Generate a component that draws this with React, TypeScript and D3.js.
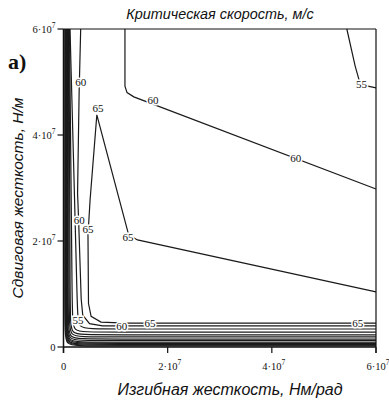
import * as d3 from 'd3';

// all coordinates in units of 10^7
const xTicks = [0, 2, 4, 6];
const yTicks = [0, 2, 4, 6];
const tickMantissa = ['0', '2·10', '4·10', '6·10'];
const tickExp = ['', '7', '7', '7'];

// traced contour lines [x, y]
const c55Top = [[5.44, 6.0], [5.6, 5.3], [5.68, 5.02], [5.8, 4.93], [6.0, 4.89]];
const c60Top = [[1.18, 6.0], [1.18, 4.92], [1.22, 4.8], [1.35, 4.72], [6.0, 2.98]];
const c60Left = [
  [0.33, 6.0], [0.3, 4.8], [0.27, 2.9], [0.29, 2.4], [0.34, 0.9],
  [0.37, 0.6], [0.5, 0.44], [0.75, 0.4], [6.0, 0.4],
];
const c65 = [
  [6.0, 1.04], [1.42, 2.02], [1.25, 2.12], [0.64, 4.38], [0.51, 2.77],
  [0.47, 2.11], [0.48, 0.82], [0.53, 0.58], [0.72, 0.47], [1.2, 0.45], [6.0, 0.45],
];

// contours hugging the axes (L-shaped)
const lowLevels = [55, 50, 45, 40, 35, 30, 25, 20, 15, 10, 5];
const lowXTop = [0.125, 0.115, 0.105, 0.095, 0.085, 0.075, 0.065, 0.055, 0.045, 0.035, 0.025];
const lowXBottom = [0.27, 0.17, 0.13, 0.11, 0.09, 0.075, 0.065, 0.055, 0.045, 0.035, 0.025];
const lowYFlat = [0.34, 0.28, 0.23, 0.19, 0.15, 0.12, 0.09, 0.07, 0.05, 0.035, 0.02];

// contour labels
const labelText = ['55', '60', '60', '60', '60', '65', '65', '65', '65', '65', '55', '60'];
const labelX = [5.72, 1.72, 4.46, 0.33, 0.3, 0.66, 0.47, 1.24, 1.66, 5.65, 0.28, 1.12];
const labelY = [4.96, 4.66, 3.57, 5.0, 2.4, 4.5, 2.23, 2.08, 0.45, 0.45, 0.5, 0.4];

const W = 389;
const H = 401;

export default function App() {
  const x = d3.scaleLinear().domain([0, 6]).range([63.5, 376]);
  const y = d3.scaleLinear().domain([0, 6]).range([347, 29]);

  const straight = d3.line<number[]>().x(d => x(d[0])).y(d => y(d[1]));
  const rounded = d3.line<number[]>().x(d => x(d[0])).y(d => y(d[1])).curve(d3.curveBasis);

  const lowPaths = lowLevels.map((lv, i) => {
    const xb = lowXBottom[i];
    const yf = lowYFlat[i];
    const pts = [[lowXTop[i], 6], [xb, yf + 0.35], [xb, yf], [xb + 0.35, yf], [6, yf]];
    return rounded(pts) as string;
  });

  const traced = [c55Top, c60Top, c60Left, c65].map(c => straight(c) as string);

  const lineColor = '#1a1a1a';
  const serif = '"Liberation Serif", "DejaVu Serif", serif';
  const sans = '"Liberation Sans", Arial, sans-serif';

  return (
    <svg width={W} height={H} style={{ position: 'absolute', left: 0, top: 0, background: '#fff' }}>
      <rect width={W} height={H} fill="#fff" />

      {/* contours */}
      <g fill="none" stroke={lineColor} strokeWidth={1.2}>
        {lowPaths.map((d, i) => <path key={'l' + i} d={d} />)}
        {traced.map((d, i) => <path key={'t' + i} d={d} />)}
      </g>

      {/* frame + axes */}
      <g stroke="#111" strokeWidth={1.2} fill="none">
        <line x1={x(0)} x2={x(6)} y1={y(6)} y2={y(6)} />
        <line x1={x(6)} x2={x(6)} y1={y(6)} y2={y(0) + 6} />
        <line x1={x(0)} x2={x(6)} y1={y(0)} y2={y(0)} strokeWidth={1.5} />
        <line x1={x(0)} x2={x(0)} y1={y(6)} y2={y(0) + 6} strokeWidth={1.5} />
        {yTicks.map(t => (
          <line key={'yt' + t} x1={x(0) - 6} x2={x(0)} y1={y(t)} y2={y(t)} />
        ))}
        {xTicks.map(t => (
          <line key={'xt' + t} x1={x(t)} x2={x(t)} y1={y(0)} y2={y(0) + 6} />
        ))}
      </g>

      {/* contour labels */}
      <g fontFamily={serif} fontSize={11} textAnchor="middle" fill="#111">
        {labelText.map((s, i) => (
          <text
            key={'cl' + i}
            x={x(labelX[i])}
            y={y(labelY[i])}
            dy="0.35em"
            stroke="#fff"
            strokeWidth={3}
            paintOrder="stroke"
          >
            {s}
          </text>
        ))}
      </g>

      {/* tick labels */}
      <g fontFamily={serif} fontSize={10.5} fill="#111">
        {yTicks.map((t, i) => (
          <text key={'yl' + t} x={x(0) - 8} y={y(t) + 3.5} textAnchor="end">
            {tickMantissa[i]}
            {tickExp[i] && <tspan fontSize={7.5} dy={-5}>{tickExp[i]}</tspan>}
          </text>
        ))}
        {xTicks.map((t, i) => (
          <text key={'xl' + t} x={x(t) + (i === 0 ? 0 : 2)} y={y(0) + 23} textAnchor="middle">
            {tickMantissa[i]}
            {tickExp[i] && <tspan fontSize={7.5} dy={-5}>{tickExp[i]}</tspan>}
          </text>
        ))}
      </g>

      {/* titles */}
      <text x={220} y={19} textAnchor="middle" fontFamily={sans} fontStyle="italic" fontSize={14.4} fill="#111">
        Критическая скорость, м/с
      </text>
      <text x={230} y={395} textAnchor="middle" fontFamily={sans} fontStyle="italic" fontSize={16} fill="#111">
        Изгибная жесткость, Нм/рад
      </text>
      <text
        transform={`translate(23,${(y(0) + y(6)) / 2 + 10}) rotate(-90)`}
        textAnchor="middle"
        fontFamily={sans}
        fontStyle="italic"
        fontSize={15.5}
        fill="#111"
      >
        Сдвиговая жесткость, Н/м
      </text>
      <text x={8} y={69} fontFamily={serif} fontWeight="bold" fontSize={22} fill="#111">
        а)
      </text>
    </svg>
  );
}
